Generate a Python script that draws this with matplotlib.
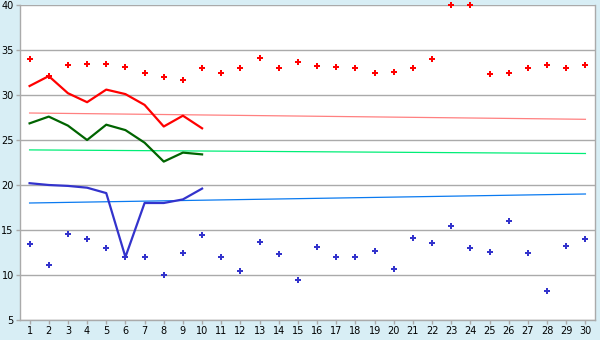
import matplotlib
matplotlib.use('Agg')
import matplotlib.pyplot as plt

# 일자 (1~30)
days = list(range(1, 31))

# 위쪽 빨간 점
red_points = [34.0, 32.1, 33.3, 33.4, 33.4, 33.1, 32.4, 32.0, 31.7, 33.0,
              32.4, 33.0, 34.1, 33.0, 33.7, 33.2, 33.1, 33.0, 32.5, 32.6,
              33.0, 34.0, 40.0, 40.0, 32.3, 32.5, 33.0, 33.3, 33.0, 33.3]

# 아래쪽 파란 점
blue_points = [13.5, 11.1, 14.6, 14.0, 13.0, 12.0, 12.0, 10.0, 12.5, 14.5,
               12.0, 10.5, 13.7, 12.3, 9.5, 13.1, 12.0, 12.0, 12.7, 10.7,
               14.1, 13.6, 15.4, 13.0, 12.6, 16.0, 12.4, 8.2, 13.2, 14.0]

# 1~10일의 굵은 선
line_days = list(range(1, 11))
red_line = [31.0, 32.1, 30.2, 29.2, 30.6, 30.1, 28.9, 26.5, 27.7, 26.3]
green_line = [26.85, 27.6, 26.6, 25.0, 26.7, 26.1, 24.7, 22.6, 23.6, 23.4]
blue_line = [20.2, 20.0, 19.9, 19.7, 19.1, 12.0, 18.0, 18.0, 18.4, 19.6]

# 얇은 추세선 (시작, 끝)
trend_days = [1, 30]
red_trend = [28.0, 27.3]
green_trend = [23.9, 23.5]
blue_trend = [18.0, 19.0]

bg = '#d8eef5'
grid_c = '#aaaaaa'

fig = plt.figure(figsize=(6, 3.4), dpi=100, facecolor=bg)
ax = fig.add_axes([20/600, 1-320/340, 575/600, 315/340])
ax.set_facecolor('white')

ax.plot(trend_days, red_trend, color='#ff8080', lw=0.9)
ax.plot(trend_days, green_trend, color='#00ee77', lw=0.9)
ax.plot(trend_days, blue_trend, color='#0a7af0', lw=0.9)

ax.plot(line_days, red_line, color='#ff0000', lw=1.6)
ax.plot(line_days, green_line, color='#006400', lw=1.6)
ax.plot(line_days, blue_line, color='#3333cc', lw=1.6)

ax.plot(days, red_points, 'P', color='#ff0000', ms=5, mew=0, ls='none', clip_on=False)
ax.plot(days, blue_points, 'P', color='#3333cc', ms=5, mew=0, ls='none', clip_on=False)

ax.set_xlim(0.5, 30.5)
ax.set_ylim(5, 40)
ax.set_xticks(days)
ax.set_yticks(range(5, 41, 5))
ax.yaxis.grid(True, color=grid_c, lw=1)
ax.set_axisbelow(True)
for s in ax.spines.values():
    s.set_color(grid_c)
    s.set_linewidth(1)
ax.spines['top'].set_visible(False)
ax.tick_params(colors=grid_c, labelcolor='black', labelsize=7, length=3, width=1, pad=1.5)

fig.savefig('out.png', dpi=100, facecolor=bg)
